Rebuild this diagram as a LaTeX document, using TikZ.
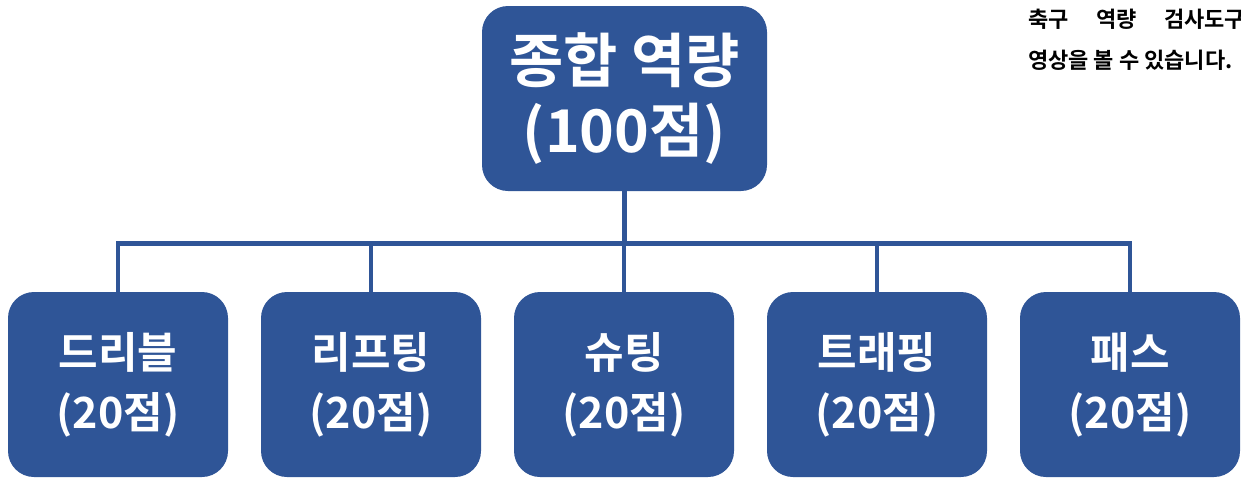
\documentclass[tikz,border=0pt]{standalone}
\usepackage{fontspec}
\setmainfont{Noto Sans CJK KR}[BoldFont={* Bold}]
\newfontfamily\krb{Noto Sans CJK KR Bold}
\definecolor{boxblue}{RGB}{47,85,151}
\begin{document}
\begin{tikzpicture}[x=1pt,y=-1pt,
  box/.style={fill=boxblue, rounded corners=26pt, text=white, align=center, inner sep=0pt},
  topbox/.style={box, minimum width=285pt, minimum height=185pt, font=\krb\fontsize{59}{70}\selectfont},
  subbox/.style={box, minimum width=220pt, minimum height=185pt, font=\krb\fontsize{43}{60}\selectfont},
  link/.style={draw=boxblue, line width=4.5pt, line join=miter},
  note/.style={anchor=base west, inner sep=0pt, font=\krb\fontsize{22}{26}\selectfont}]
\useasboundingbox (0,0) rectangle (1241,477);
\clip (0,0) rectangle (1241,477);
\node[topbox] (top) at (624.5,98.5) {종합 역량\\(100점)};
\node[subbox] (b1) at (118,384.5) {드리블\\(20점)};
\node[subbox] (b2) at (371,384.5) {리프팅\\(20점)};
\node[subbox] (b3) at (624,384.5) {슈팅\\(20점)};
\node[subbox] (b4) at (877,384.5) {트래핑\\(20점)};
\node[subbox] (b5) at (1130,384.5) {패스\\(20점)};
\coordinate (bus) at (0,243.5);
\draw[link] (b1.north) -- (b1.north |- bus) -- (b5.north |- bus) -- (b5.north);
\draw[link] (top.south) -- (top.south |- bus);
\draw[link] (b2.north) -- (b2.north |- bus);
\draw[link] (b3.north) -- (b3.north |- bus);
\draw[link] (b4.north) -- (b4.north |- bus);
\node[note] (n1) at (1028,27) {축구};
\node[note] (n2) at (1096,27) {역량};
\node[note] (n3) at (1164,27) {검사도구};
\node[note] (n4) at (1028,68) {영상을 볼 수 있습니다.};
\end{tikzpicture}
\end{document}
